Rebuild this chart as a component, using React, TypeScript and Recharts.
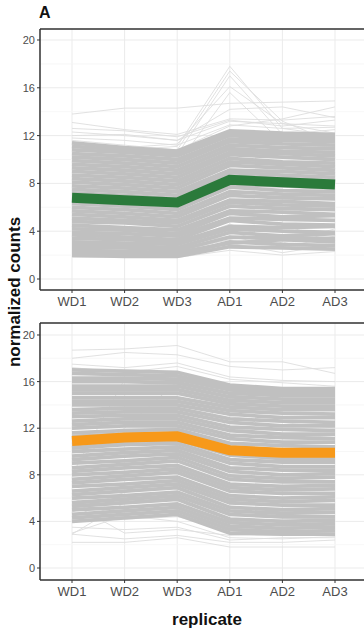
import React from 'react';
import { LineChart, Line, XAxis, YAxis, CartesianGrid, ReferenceLine } from 'recharts';

const replicates = ['WD1', 'WD2', 'WD3', 'AD1', 'AD2', 'AD3'];
const yTicks = [0, 4, 8, 12, 16, 20];
const minorTicks = [2, 6, 10, 14, 18];

// panel A: mean profile (green) and gene profiles
const meanA = [6.8, 6.6, 6.4, 8.3, 8.1, 7.9];
const coreA = [
  [2.0, 1.9, 1.9, 2.7, 2.6, 2.5],
  [2.2, 2.1, 2.0, 3.1, 2.9, 2.8],
  [2.4, 2.3, 2.2, 3.0, 3.3, 3.1],
  [2.6, 2.6, 2.4, 3.5, 3.4, 3.4],
  [2.9, 2.8, 2.6, 3.9, 3.6, 3.8],
  [3.1, 3.0, 2.9, 4.2, 4.0, 3.9],
  [3.4, 3.3, 3.1, 4.4, 4.3, 4.4],
  [3.7, 3.5, 3.3, 4.9, 4.6, 4.5],
  [3.9, 3.8, 3.6, 5.1, 5.0, 4.9],
  [4.2, 4.1, 3.8, 5.5, 5.2, 5.3],
  [4.5, 4.3, 4.1, 5.7, 5.6, 5.4],
  [4.8, 4.7, 4.4, 6.1, 5.9, 5.8],
  [5.1, 4.9, 4.7, 6.4, 6.2, 6.1],
  [5.4, 5.2, 4.9, 6.6, 6.5, 6.3],
  [5.7, 5.5, 5.2, 7.0, 6.8, 6.7],
  [6.0, 5.8, 5.5, 7.3, 7.1, 7.0],
  [6.3, 6.1, 5.8, 7.7, 7.4, 7.3],
  [6.6, 6.4, 6.1, 7.9, 7.8, 7.6],
  [6.9, 6.7, 6.4, 8.3, 8.0, 7.9],
  [7.2, 7.0, 6.7, 8.6, 8.4, 8.2],
  [7.5, 7.3, 7.0, 8.9, 8.7, 8.5],
  [7.8, 7.6, 7.3, 9.1, 9.0, 8.8],
  [8.1, 7.9, 7.6, 9.5, 9.3, 9.1],
  [8.4, 8.2, 7.9, 9.8, 9.6, 9.4],
  [8.7, 8.5, 8.2, 10.1, 9.8, 9.7],
  [9.0, 8.8, 8.5, 10.4, 10.2, 10.0],
  [9.3, 9.1, 8.8, 10.6, 10.5, 10.3],
  [9.6, 9.4, 9.1, 10.9, 10.7, 10.6],
  [9.9, 9.7, 9.4, 11.2, 11.0, 10.9],
  [10.2, 10.0, 9.7, 11.5, 11.3, 11.2],
  [10.5, 10.3, 10.0, 11.7, 11.6, 11.5],
  [10.8, 10.6, 10.3, 12.0, 11.8, 11.7],
  [11.1, 10.8, 10.5, 12.2, 12.0, 11.9],
  [11.4, 11.0, 10.7, 12.4, 12.2, 12.1],
];
const outerA = [
  [11.8, 11.6, 11.2, 12.9, 12.6, 12.7],
  [12.3, 12.0, 11.6, 13.2, 13.0, 12.8],
  [12.6, 12.4, 11.9, 13.3, 12.8, 13.3],
  [13.1, 12.5, 12.1, 13.4, 13.3, 13.6],
  [13.8, 14.3, 14.3, 14.7, 14.8, 14.9],
  [12.0, 12.1, 11.6, 14.2, 14.4, 13.5],
  [11.0, 10.8, 11.1, 17.8, 12.6, 12.0],
  [10.4, 10.1, 10.8, 17.4, 13.2, 11.4],
  [9.8, 9.6, 10.4, 17.0, 12.1, 12.5],
  [11.3, 11.0, 11.3, 16.1, 13.0, 12.2],
  [9.0, 8.8, 9.6, 15.6, 11.4, 11.0],
  [1.8, 1.8, 1.8, 2.4, 2.0, 2.3],
  [2.3, 2.1, 2.0, 3.0, 2.2, 2.9],
  [3.2, 3.0, 2.8, 3.6, 2.6, 3.6],
  [4.0, 3.6, 3.0, 4.6, 3.0, 4.2],
  [2.8, 2.5, 2.3, 3.3, 4.6, 3.0],
  [11.6, 11.2, 10.8, 12.8, 13.4, 14.4],
];

// panel B: mean profile (orange) and gene profiles
const meanB = [10.9, 11.2, 11.3, 10.1, 9.9, 9.9];
const coreB = [
  [4.0, 4.3, 4.6, 3.0, 2.9, 2.9],
  [4.3, 4.6, 4.9, 3.3, 3.1, 3.2],
  [4.6, 4.9, 5.2, 3.6, 3.4, 3.5],
  [5.0, 5.2, 5.5, 3.9, 3.7, 3.8],
  [5.3, 5.6, 5.9, 4.2, 4.0, 4.1],
  [5.6, 5.9, 6.2, 4.6, 4.4, 4.4],
  [6.0, 6.2, 6.5, 4.9, 4.7, 4.8],
  [6.3, 6.6, 6.9, 5.2, 5.0, 5.1],
  [6.6, 6.9, 7.2, 5.6, 5.4, 5.4],
  [7.0, 7.2, 7.5, 5.9, 5.7, 5.8],
  [7.3, 7.6, 7.8, 6.2, 6.0, 6.1],
  [7.6, 7.9, 8.2, 6.6, 6.4, 6.4],
  [8.0, 8.2, 8.5, 6.9, 6.7, 6.8],
  [8.3, 8.6, 8.8, 7.2, 7.0, 7.1],
  [8.6, 8.9, 9.2, 7.6, 7.4, 7.4],
  [9.0, 9.2, 9.5, 7.9, 7.7, 7.8],
  [9.3, 9.6, 9.8, 8.3, 8.0, 8.1],
  [9.6, 9.9, 10.1, 8.6, 8.4, 8.4],
  [10.0, 10.2, 10.4, 9.0, 8.7, 8.7],
  [10.3, 10.6, 10.7, 9.3, 9.1, 9.1],
  [10.6, 10.9, 11.0, 9.7, 9.4, 9.4],
  [11.0, 11.2, 11.3, 10.0, 9.8, 9.8],
  [11.3, 11.5, 11.6, 10.4, 10.1, 10.1],
  [11.6, 11.8, 11.9, 10.7, 10.5, 10.4],
  [12.0, 12.2, 12.2, 11.1, 10.8, 10.8],
  [12.3, 12.5, 12.5, 11.4, 11.2, 11.1],
  [12.6, 12.8, 12.8, 11.8, 11.5, 11.5],
  [13.0, 13.1, 13.1, 12.1, 11.9, 11.8],
  [13.3, 13.4, 13.4, 12.5, 12.2, 12.2],
  [13.6, 13.7, 13.7, 12.8, 12.6, 12.5],
  [14.0, 14.0, 14.0, 13.2, 12.9, 12.9],
  [14.3, 14.3, 14.3, 13.5, 13.3, 13.2],
  [14.6, 14.6, 14.6, 13.8, 13.6, 13.6],
  [15.0, 15.0, 15.0, 14.1, 13.9, 13.9],
  [15.3, 15.3, 15.3, 14.4, 14.2, 14.2],
  [15.6, 15.6, 15.6, 14.7, 14.5, 14.5],
  [16.0, 16.0, 15.9, 15.0, 14.8, 14.8],
  [16.3, 16.3, 16.2, 15.3, 15.0, 15.0],
  [16.7, 16.6, 16.5, 15.5, 15.2, 15.2],
  [17.0, 16.9, 16.8, 15.7, 15.4, 15.4],
];
const outerB = [
  [18.7, 18.8, 19.1, 17.7, 17.7, 16.7],
  [18.0, 18.5, 18.3, 17.3, 17.0, 17.2],
  [17.5, 17.2, 17.6, 16.4, 16.1, 16.0],
  [17.2, 16.8, 17.3, 16.2, 15.9, 15.6],
  [2.2, 2.2, 2.6, 1.8, 1.8, 1.8],
  [2.9, 2.5, 2.8, 2.2, 2.2, 2.4],
  [3.0, 4.5, 4.0, 2.6, 2.5, 2.7],
  [5.5, 3.0, 3.3, 2.8, 3.0, 3.2],
  [2.9, 5.6, 6.0, 3.0, 3.5, 3.8],
  [3.5, 3.3, 3.5, 2.4, 2.6, 2.6],
  [4.8, 6.5, 7.0, 4.0, 4.2, 4.3],
  [6.0, 4.2, 4.4, 3.4, 3.3, 3.6],
  [8.0, 16.2, 15.8, 12.0, 11.5, 11.2],
  [9.0, 12.0, 16.0, 13.0, 12.5, 12.0],
];

const buildRows = (core: number[][], outer: number[][], mean: number[]) =>
  replicates.map((rep, i) => {
    const row: Record<string, any> = { rep, mean: mean[i] };
    core.forEach((l, j) => (row['c' + j] = l[i]));
    outer.forEach((l, j) => (row['o' + j] = l[i]));
    return row;
  });

const font = '"Liberation Sans", Arial, sans-serif';

type PanelProps = {
  core: number[][];
  outer: number[][];
  mean: number[];
  color: string;
  height: number;
  top: number;
  bottom: number;
  domain: [number, number];
};

const Panel = ({ core, outer, mean, color, height, top, bottom, domain }: PanelProps) => {
  const rows = buildRows(core, outer, mean);
  return (
    <LineChart width={372} height={height} data={rows} margin={{ top, right: 5, left: 0, bottom }}>
      <CartesianGrid stroke="#ebebeb" strokeWidth={1} />
      {minorTicks.map((t) => (
        <ReferenceLine key={t} y={t} stroke="#f5f5f5" strokeWidth={0.8} />
      ))}
      <XAxis
        dataKey="rep"
        height={30}
        padding={{ left: 32, right: 32 }}
        tickSize={3}
        tickMargin={4}
        axisLine={{ stroke: '#333', strokeWidth: 1.5 }}
        tickLine={{ stroke: '#333' }}
        tick={{ fill: '#4d4d4d', fontSize: 13, fontFamily: font }}
      />
      <YAxis
        width={40}
        type="number"
        domain={domain}
        ticks={yTicks}
        allowDataOverflow
        tickSize={3}
        tickMargin={2}
        axisLine={{ stroke: '#333', strokeWidth: 1.5 }}
        tickLine={{ stroke: '#333' }}
        tick={{ fill: '#4d4d4d', fontSize: 11, fontFamily: font }}
      />
      <ReferenceLine y={domain[1]} stroke="#333" strokeWidth={1.5} ifOverflow="visible" />
      {outer.map((_, j) => (
        <Line
          key={'o' + j}
          dataKey={'o' + j}
          type="linear"
          stroke="#dedede"
          strokeWidth={0.9}
          dot={false}
          activeDot={false}
          isAnimationActive={false}
        />
      ))}
      {core.map((_, j) => (
        <Line
          key={'c' + j}
          dataKey={'c' + j}
          type="linear"
          stroke="#c0c0c0"
          strokeWidth={3.8}
          dot={false}
          activeDot={false}
          isAnimationActive={false}
        />
      ))}
      <Line
        dataKey="mean"
        type="linear"
        stroke={color}
        strokeWidth={10}
        dot={false}
        activeDot={false}
        isAnimationActive={false}
      />
    </LineChart>
  );
};

export default function App() {
  return (
    <div
      style={{
        position: 'absolute',
        left: 0,
        top: 0,
        width: 364,
        height: 629,
        overflow: 'hidden',
        background: '#fff',
        fontFamily: font,
      }}
    >
      <div style={{ position: 'absolute', left: 0, top: 0 }}>
        <Panel core={coreA} outer={outerA} mean={meanA} color="#2b7a3b" height={320} top={29} bottom={0} domain={[-0.92, 20.92]} />
      </div>
      <div style={{ position: 'absolute', left: 0, top: 300 }}>
        <Panel core={coreB} outer={outerB} mean={meanB} color="#f7991a" height={329} top={23} bottom={19} domain={[-1.03, 21.03]} />
      </div>
      <div style={{ position: 'absolute', left: 39, top: 4, fontSize: 16, fontWeight: 700, color: '#111' }}>A</div>
      <div
        style={{
          position: 'absolute',
          left: 15,
          top: 292,
          transform: 'translate(-50%, -50%) rotate(-90deg)',
          whiteSpace: 'nowrap',
          fontSize: 17,
          fontWeight: 700,
          color: '#111',
        }}
      >
        normalized counts
      </div>
      <div
        style={{
          position: 'absolute',
          left: 207,
          top: 620,
          transform: 'translate(-50%, -50%)',
          whiteSpace: 'nowrap',
          fontSize: 17,
          fontWeight: 700,
          color: '#111',
        }}
      >
        replicate
      </div>
    </div>
  );
}
